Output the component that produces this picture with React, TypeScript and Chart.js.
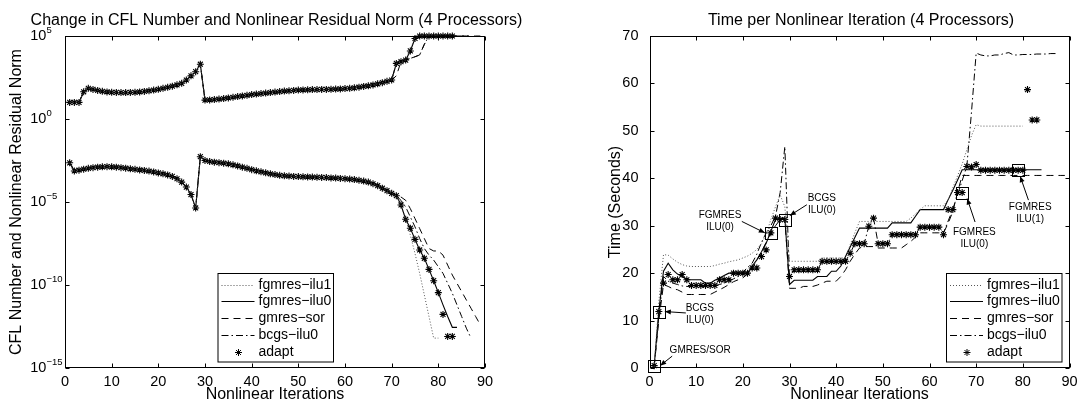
import React, { useEffect, useRef } from 'react';
import { Chart, registerables } from 'chart.js';

Chart.register(...registerables);

const FONT = '"Liberation Sans", Arial, Helvetica, sans-serif';

// ---------- axes ----------
const xTicks = [0, 10, 20, 30, 40, 50, 60, 70, 80, 90];
const logTickExponents = [5, 0, -5, -10, -15];
const timeTicks = [0, 10, 20, 30, 40, 50, 60, 70];

const seriesNames = ['fgmres−ilu1', 'fgmres−ilu0', 'gmres−sor', 'bcgs−ilu0', 'adapt'];

// ---------- left panel: log10 of CFL number ----------
// iterations 1..70 (all solvers coincide)
const cflLog10Shared = [
  1.0, 1.0, 1.0, 1.64, 1.85, 1.78, 1.72, 1.67, 1.63, 1.61,
  1.6, 1.59, 1.59, 1.6, 1.61, 1.63, 1.66, 1.7, 1.74, 1.79,
  1.85, 1.91, 1.98, 2.06, 2.15, 2.35, 2.6, 2.85, 3.3, 1.14,
  1.15, 1.17, 1.2, 1.23, 1.27, 1.31, 1.35, 1.39, 1.43, 1.47,
  1.5, 1.53, 1.56, 1.59, 1.62, 1.65, 1.68, 1.7, 1.72, 1.74,
  1.75, 1.76, 1.77, 1.77, 1.78, 1.78, 1.79, 1.8, 1.81, 1.83,
  1.85, 1.88, 1.92, 1.96, 2.0, 2.05, 2.12, 2.19, 2.27, 2.35,
];
// from iteration 71
const cflLog10TailIlu1 = [3.35, 3.45, 3.55, 4.2, 4.9, 5, 5, 5, 5, 5];
const cflLog10TailIlu0 = [3.35, 3.45, 3.55, 4.1, 4.85, 5, 5, 5, 5, 5, 5, 5, 5, 5];
const cflLog10TailSor = [2.6, 3.45, 3.55, 3.65, 3.75, 3.86, 4.5, 5, 5, 5, 5, 5, 5, 5, 5, 5, 5, 5, 5];
const cflLog10TailBcgs = [3.35, 3.45, 3.55, 3.65, 3.75, 3.86, 4.5, 5, 5, 5, 5, 5, 5, 5, 5, 5, 5];
const cflLog10TailAdapt = [3.35, 3.45, 3.55, 4.1, 4.85, 5, 5, 5, 5, 5, 5, 5, 5];

// ---------- left panel: log10 of nonlinear residual norm ----------
// iterations 1..71 (all solvers coincide)
const residualLog10Shared = [
  -2.64, -3.13, -3.08, -3.02, -2.97, -2.93, -2.9, -2.88, -2.87, -2.88,
  -2.9, -2.93, -2.96, -3.0, -3.03, -3.07, -3.1, -3.14, -3.19, -3.25,
  -3.3, -3.37, -3.46, -3.6, -3.8, -4.1, -4.55, -5.36, -2.27, -2.5,
  -2.56, -2.6, -2.63, -2.66, -2.7, -2.76, -2.83, -2.9, -2.97, -3.05,
  -3.12, -3.18, -3.24, -3.3, -3.35, -3.39, -3.42, -3.44, -3.46, -3.47,
  -3.48, -3.49, -3.5, -3.51, -3.52, -3.53, -3.55, -3.56, -3.58, -3.6,
  -3.62, -3.65, -3.69, -3.74, -3.8, -3.9, -4.02, -4.17, -4.32, -4.48,
  -4.62,
];
// from iteration 72
const residualLog10TailIlu1 = [-5.2, -6.0, -7.0, -8.1, -9.3, -10.6, -11.9, -13.2, -13.2];
const residualLog10TailIlu0 = [-5.18, -6.04, -6.58, -7.25, -7.89, -8.39, -9.06, -9.74, -10.46, -11.2, -11.9, -12.55, -12.55];
const residualLog10TailSor = [-4.7, -4.9, -5.4, -6.0, -6.6, -7.2, -7.8, -7.95, -7.95, -8.2, -8.8, -9.4, -9.9, -10.4, -10.9, -11.4, -11.9, -12.4];
const residualLog10TailBcgs = [-4.9, -5.3, -5.9, -6.5, -7.2, -7.8, -8.2, -8.5, -8.9, -9.3, -9.9, -10.5, -11.2, -11.9, -12.6, -13.2];
const residualLog10TailAdapt = [-5.18, -6.04, -6.58, -7.25, -7.89, -8.39, -9.06, -9.74, -10.46, -11.77, -13.1, -13.1];

// ---------- right panel: seconds per nonlinear iteration (from iteration 1) ----------
const timeIlu1 = [
  0.3, 14.0, 23.9, 23.8, 23.0, 22.3, 21.8, 21.5, 21.4, 21.4,
  21.4, 21.4, 21.4, 21.6, 21.9, 22.1, 22.4, 22.6, 22.8, 23.2,
  23.6, 24.2, 25.0, 26.2, 28.2, 31.3, 34.0, 36.5, 34.0, 22.5,
  22.5, 22.5, 22.5, 22.5, 22.5, 22.5, 23.2, 23.2, 23.2, 23.2,
  23.2, 23.2, 26.0, 28.5, 30.9, 30.9, 30.9, 30.9, 30.9, 30.9,
  30.9, 30.9, 30.9, 30.9, 30.9, 31.6, 32.5, 33.4, 34.2, 34.2,
  34.2, 34.2, 34.2, 35.5, 38.0, 40.5, 43.0, 46.0, 49.0, 51.3,
  51.0, 51.0, 51.0, 51.0, 51.0, 51.0, 51.0, 51.0, 51.0, 51.0,
];
const timeIlu0 = [
  0.4, 12.0, 20.4, 22.1, 20.7, 19.8, 19.3, 18.6, 18.6, 18.6,
  18.6, 17.9, 17.9, 18.5, 19.0, 19.5, 20.0, 20.0, 20.0, 20.0,
  20.0, 21.5, 22.8, 24.5, 26.3, 28.8, 31.3, 31.5, 31.6, 17.6,
  18.5, 18.5, 18.5, 18.5, 18.5, 19.3, 19.3, 19.3, 20.4, 20.4,
  21.5, 23.5, 25.5, 27.5, 29.5, 29.5, 29.5, 29.5, 29.5, 29.5,
  29.5, 30.6, 30.6, 30.6, 30.6, 30.6, 32.0, 33.4, 33.4, 33.4,
  33.4, 33.4, 33.4, 35.5, 37.5, 39.6, 41.8, 41.8, 41.8, 41.8,
  41.8, 41.8, 41.8, 41.8, 41.8, 41.8, 41.8, 41.8, 41.8, 41.8,
  41.8, 41.8, 41.8, 41.8,
];
const timeSor = [
  0.3, 10.0, 17.6, 17.2, 16.7, 16.5, 16.0, 15.5, 15.5, 15.5,
  15.5, 15.5, 15.5, 16.0, 16.5, 17.0, 17.6, 18.2, 18.6, 19.0,
  19.8, 21.0, 22.7, 24.5, 26.5, 28.5, 30.0, 31.3, 31.5, 16.8,
  16.8, 16.8, 17.2, 17.2, 17.2, 17.5, 17.9, 18.3, 18.3, 18.3,
  19.3, 20.7, 22.5, 24.0, 25.3, 25.6, 25.6, 25.6, 25.3, 25.3,
  25.3, 25.3, 25.3, 25.3, 26.0, 26.7, 27.6, 28.5, 28.5, 28.5,
  28.5, 28.5, 28.5, 30.5, 33.0, 37.0, 40.6, 40.6, 40.6, 40.6,
  40.6, 40.6, 40.6, 40.6, 40.6, 40.6, 40.6, 40.6, 40.6, 40.6,
  40.6, 40.6, 40.6, 40.6, 40.6, 40.6, 40.6, 40.6, 40.6,
];
const timeBcgs = [
  0.3, 11.0, 19.3, 18.3, 17.9, 17.6, 17.3, 17.2, 17.2, 17.2,
  17.2, 17.2, 17.2, 17.4, 17.6, 17.9, 18.3, 18.8, 19.3, 20.2,
  21.2, 22.1, 24.0, 26.5, 28.5, 30.0, 32.0, 37.0, 46.7, 19.0,
  20.7, 20.7, 20.7, 20.7, 20.7, 20.7, 22.5, 22.5, 22.5, 22.5,
  22.5, 22.5, 24.2, 26.2, 26.2, 26.2, 29.9, 31.6, 26.2, 26.2,
  26.2, 28.1, 28.1, 28.1, 28.1, 28.1, 28.1, 29.7, 29.7, 29.7,
  29.7, 29.7, 28.5, 31.0, 33.5, 36.5, 39.5, 42.5, 54.0, 66.4,
  66.0, 65.8, 65.8, 66.0, 66.0, 66.3, 66.5, 66.0, 66.0, 66.1,
  66.1, 66.1, 66.2, 66.2, 66.2, 66.3, 66.3,
];
const timeAdapt = [
  0.5, 11.9, 17.9, 19.7, 18.6, 18.6, 19.7, 18.6, 17.4, 17.4,
  17.4, 17.4, 17.4, 17.4, 18.6, 18.6, 18.6, 20.0, 20.0, 20.0,
  20.0, 21.1, 21.1, 23.5, 24.9, 28.5, 31.6, 31.3, 31.3, 19.3,
  20.7, 20.7, 20.7, 20.7, 20.7, 20.7, 22.5, 22.5, 22.5, 22.5,
  22.5, 22.5, 24.2, 26.2, 26.2, 26.2, 29.9, 31.6, 26.2, 26.2,
  26.2, 28.1, 28.1, 28.1, 28.1, 28.1, 28.1, 29.7, 29.7, 29.7,
  29.7, 29.7, 28.1, 33.4, 33.4, 37.0, 37.0, 42.5, 42.4, 42.9,
  41.7, 41.7, 41.7, 41.7, 41.7, 41.7, 41.7, 41.7, 41.7, 41.7,
  58.7, 52.3, 52.3,
];

// ---------- annotations: iterations where adapt switched solver ----------
const switchIterations = [1, 2, 26, 29, 67, 79];
const switchLabels = [
  ['GMRES/SOR'],
  ['BCGS', 'ILU(0)'],
  ['FGMRES', 'ILU(0)'],
  ['BCGS', 'ILU(0)'],
  ['FGMRES', 'ILU(0)'],
  ['FGMRES', 'ILU(1)'],
];
// pixel offsets from the marked point (text centre, arrow tail, arrow head)
const switchLayout = [
  { text: [46, -15], tail: [18, -9.5], head: [6, 0] },
  { text: [41, -3], tail: [27, 1.4], head: [6, 0] },
  { text: [-50.8, -17.1], tail: [-29, -11.4], head: [-6, 0] },
  { text: [37, -21.3], tail: [22, -14.8], head: [5, -4] },
  { text: [12.2, 39.5], tail: [12.9, 29.5], head: [5, 6] },
  { text: [12, 36.6], tail: [10.3, 29.9], head: [2, 6] },
];

// ---------- styles ----------
const STYLES = [
  { dash: [1, 2], color: '#555', width: 1, marker: false },
  { dash: [], color: '#000', width: 1.1, marker: false },
  { dash: [7, 5], color: '#000', width: 1, marker: false },
  { dash: [7, 3, 1.5, 3], color: '#000', width: 1, marker: false },
  { dash: [], color: '#000', width: 1, marker: true },
];

const toPoints = (vals: number[], start: number, isLog: boolean) =>
  vals.map((v, k) => ({ x: start + k, y: isLog ? Math.pow(10, v) : v }));

function makeDataset(label: string, points: any[], idx: number) {
  const st = STYLES[idx];
  if (st.marker) {
    return {
      label, data: points, showLine: false, pointStyle: 'star', pointRadius: 3.5,
      pointBorderWidth: 1.1, pointBorderColor: '#000', pointBackgroundColor: '#000',
      borderColor: '#000', clip: false,
    };
  }
  return {
    label, data: points, borderColor: st.color, borderWidth: st.width, borderDash: st.dash,
    pointRadius: 0, fill: false, tension: 0, clip: false,
  };
}

function drawStar(ctx: CanvasRenderingContext2D, x: number, y: number, r: number) {
  ctx.beginPath();
  [0, Math.PI / 4, Math.PI / 2, (3 * Math.PI) / 4].forEach((a) => {
    ctx.moveTo(x - r * Math.cos(a), y - r * Math.sin(a));
    ctx.lineTo(x + r * Math.cos(a), y + r * Math.sin(a));
  });
  ctx.stroke();
}

function titlePlugin(text: string) {
  return {
    id: 'plotTitle',
    afterDraw(chart: any) {
      const a = chart.chartArea;
      const ctx = chart.ctx;
      ctx.save();
      ctx.fillStyle = '#000';
      ctx.font = `16px ${FONT}`;
      ctx.textAlign = 'center';
      ctx.textBaseline = 'middle';
      ctx.fillText(text, (a.left + a.right) / 2 + 1.5, 20.8);
      ctx.restore();
    },
  };
}

function framePlugin(yTickValues: number[]) {
  return {
    id: 'frame',
    afterDatasetsDraw(chart: any) {
      const { ctx, chartArea: a } = chart;
      const xs = chart.scales.x;
      const ys = chart.scales.y;
      ctx.save();
      ctx.setLineDash([]);
      ctx.strokeStyle = '#000';
      ctx.lineWidth = 1;
      const L = Math.round(a.left) + 0.5;
      const R = Math.round(a.right) - 0.5;
      const T = Math.round(a.top) + 0.5;
      const B = Math.round(a.bottom) - 0.5;
      ctx.strokeRect(L, T, R - L, B - T);
      ctx.beginPath();
      xTicks.forEach((v) => {
        const p = Math.round(xs.getPixelForValue(v)) + 0.5;
        ctx.moveTo(p, B); ctx.lineTo(p, B - 4);
        ctx.moveTo(p, T); ctx.lineTo(p, T + 4);
      });
      yTickValues.forEach((v) => {
        const p = Math.round(ys.getPixelForValue(v)) + 0.5;
        ctx.moveTo(L, p); ctx.lineTo(L + 4, p);
        ctx.moveTo(R, p); ctx.lineTo(R - 4, p);
      });
      ctx.stroke();
      ctx.restore();
    },
  };
}

function legendPlugin(box: { x: number; y: number; w: number; h: number }) {
  return {
    id: 'boxLegend',
    afterDraw(chart: any) {
      const ctx = chart.ctx;
      ctx.save();
      ctx.fillStyle = '#fff';
      ctx.fillRect(box.x, box.y, box.w, box.h);
      ctx.strokeStyle = '#000';
      ctx.lineWidth = 1;
      ctx.setLineDash([]);
      ctx.strokeRect(box.x + 0.5, box.y + 0.5, box.w, box.h);
      ctx.font = `14px ${FONT}`;
      ctx.textBaseline = 'middle';
      ctx.textAlign = 'left';
      seriesNames.forEach((name, k) => {
        const y = Math.round(box.y + 11.7 + k * 16.75) + 0.5;
        const st = STYLES[k];
        ctx.strokeStyle = st.color;
        ctx.lineWidth = st.width;
        if (st.marker) {
          ctx.setLineDash([]);
          drawStar(ctx, box.x + 21, y, 3.5);
        } else {
          ctx.setLineDash(st.dash);
          ctx.beginPath();
          ctx.moveTo(box.x + 4, y);
          ctx.lineTo(box.x + 37, y);
          ctx.stroke();
        }
        ctx.setLineDash([]);
        ctx.fillStyle = '#000';
        ctx.fillText(name, box.x + 41, y);
      });
      ctx.restore();
    },
  };
}

const logLabelPlugin = {
  id: 'logLabels',
  afterDraw(chart: any) {
    const ys = chart.scales.y;
    const a = chart.chartArea;
    const ctx = chart.ctx;
    ctx.save();
    ctx.fillStyle = '#000';
    ctx.textBaseline = 'middle';
    ctx.textAlign = 'left';
    logTickExponents.forEach((e) => {
      const y = ys.getPixelForValue(Math.pow(10, e));
      const x0 = a.left - 34.7;
      ctx.font = `14.5px ${FONT}`;
      ctx.fillText('10', x0, y);
      const w = ctx.measureText('10').width;
      ctx.font = `9.5px ${FONT}`;
      ctx.fillText(e < 0 ? '−' + Math.abs(e) : String(e), x0 + w, y - 5.5);
    });
    ctx.restore();
  },
};

const annotationPlugin = {
  id: 'switchMarks',
  afterDraw(chart: any) {
    const ctx = chart.ctx;
    const xs = chart.scales.x;
    const ys = chart.scales.y;
    ctx.save();
    ctx.strokeStyle = '#000';
    ctx.fillStyle = '#000';
    ctx.lineWidth = 1;
    ctx.setLineDash([]);
    switchIterations.forEach((it, k) => {
      const px = xs.getPixelForValue(it);
      const py = ys.getPixelForValue(timeAdapt[it - 1]);
      const lay = switchLayout[k];
      ctx.strokeRect(Math.round(px - 6) + 0.5, Math.round(py - 6) + 0.5, 12, 12);
      const tx = px + lay.tail[0], ty = py + lay.tail[1];
      const hx = px + lay.head[0], hy = py + lay.head[1];
      ctx.beginPath();
      ctx.moveTo(tx, ty);
      ctx.lineTo(hx, hy);
      ctx.stroke();
      const ang = Math.atan2(hy - ty, hx - tx);
      const len = 6, hw = 2.5;
      ctx.beginPath();
      ctx.moveTo(hx, hy);
      ctx.lineTo(hx - len * Math.cos(ang) + hw * Math.sin(ang), hy - len * Math.sin(ang) - hw * Math.cos(ang));
      ctx.lineTo(hx - len * Math.cos(ang) - hw * Math.sin(ang), hy - len * Math.sin(ang) + hw * Math.cos(ang));
      ctx.closePath();
      ctx.fill();
      ctx.font = `10px ${FONT}`;
      ctx.textAlign = 'center';
      ctx.textBaseline = 'middle';
      switchLabels[k].forEach((line, j) => {
        ctx.fillText(line, px + lay.text[0], py + lay.text[1] + j * 12);
      });
    });
    ctx.restore();
  },
};

const xAxisOptions = () => ({
  type: 'linear',
  min: 0,
  max: 90,
  afterFit: (s: any) => { s.height = 35; },
  afterBuildTicks: (s: any) => { s.ticks = xTicks.map((v) => ({ value: v })); },
  ticks: { font: { size: 14.5, family: FONT }, color: '#000', padding: -3, maxRotation: 0, autoSkip: false },
  grid: { display: false },
  border: { display: false },
  title: {
    display: true, text: 'Nonlinear Iterations', color: '#000',
    font: { size: 16, family: FONT, lineHeight: 1 }, padding: { top: 0, bottom: 0.5 },
  },
});

export default function App() {
  const leftRef = useRef<HTMLCanvasElement>(null);
  const rightRef = useRef<HTMLCanvasElement>(null);

  useEffect(() => {
    Chart.defaults.font.family = FONT;
    Chart.defaults.color = '#000';

    const cflTails = [cflLog10TailIlu1, cflLog10TailIlu0, cflLog10TailSor, cflLog10TailBcgs, cflLog10TailAdapt];
    const resTails = [residualLog10TailIlu1, residualLog10TailIlu0, residualLog10TailSor, residualLog10TailBcgs, residualLog10TailAdapt];
    const leftDatasets: any[] = [];
    seriesNames.forEach((name, k) => {
      leftDatasets.push(makeDataset(name + ' CFL', toPoints([...cflLog10Shared, ...cflTails[k]], 1, true), k));
      leftDatasets.push(makeDataset(name + ' residual', toPoints([...residualLog10Shared, ...resTails[k]], 1, true), k));
    });

    const timeSeries = [timeIlu1, timeIlu0, timeSor, timeBcgs, timeAdapt];
    const rightDatasets = seriesNames.map((name, k) => makeDataset(name, toPoints(timeSeries[k], 1, false), k));

    const left = new Chart(leftRef.current as HTMLCanvasElement, {
      type: 'line',
      data: { datasets: leftDatasets },
      options: {
        responsive: false,
        animation: false,
        events: [],
        layout: { padding: { left: 0, right: 55, top: 36, bottom: 0 } },
        plugins: {
          legend: { display: false },
          tooltip: { enabled: false },
          title: { display: false },
        },
        scales: {
          x: xAxisOptions(),
          y: {
            type: 'logarithmic',
            min: 1e-15,
            max: 1e5,
            afterFit: (s: any) => { s.width = 65; },
            ticks: { display: false },
            grid: { display: false },
            border: { display: false },
            title: {
              display: true, text: 'CFL Number and Nonlinear Residual Norm', color: '#000',
              font: { size: 16, family: FONT }, padding: { top: 6.9, bottom: 0 },
            },
          },
        },
      } as any,
      plugins: [
        framePlugin(logTickExponents.map((e) => Math.pow(10, e))),
        logLabelPlugin,
        legendPlugin({ x: 217.5, y: 273, w: 115.5, h: 88.5 }),
        titlePlugin('Change in CFL Number and Nonlinear Residual Norm (4 Processors)'),
      ],
    } as any);

    const right = new Chart(rightRef.current as HTMLCanvasElement, {
      type: 'line',
      data: { datasets: rightDatasets },
      options: {
        responsive: false,
        animation: false,
        events: [],
        layout: { padding: { left: 0, right: 20.5, top: 36, bottom: 0 } },
        plugins: {
          legend: { display: false },
          tooltip: { enabled: false },
          title: { display: false },
        },
        scales: {
          x: xAxisOptions(),
          y: {
            type: 'linear',
            min: 0,
            max: 70,
            afterFit: (s: any) => { s.width = 109.5; },
            afterBuildTicks: (s: any) => { s.ticks = timeTicks.map((v) => ({ value: v })); },
            ticks: { font: { size: 14.5, family: FONT }, color: '#000', padding: 3 },
            grid: { display: false },
            border: { display: false },
            title: {
              display: true, text: 'Time (Seconds)', color: '#000',
              font: { size: 16, family: FONT }, padding: { top: 66.4, bottom: 0 },
            },
          },
        },
      } as any,
      plugins: [
        framePlugin(timeTicks),
        annotationPlugin,
        legendPlugin({ x: 406, y: 273, w: 115.5, h: 88.5 }),
        titlePlugin('Time per Nonlinear Iteration (4 Processors)'),
      ],
    } as any);

    return () => {
      left.destroy();
      right.destroy();
    };
  }, []);

  return (
    <div style={{ position: 'fixed', left: 0, top: 0, width: 1077, height: 403, overflow: 'hidden', background: '#fff' }}>
      <canvas ref={leftRef} width={540} height={403} style={{ position: 'absolute', left: 0, top: 0, width: 540, height: 403 }} />
      <canvas ref={rightRef} width={550} height={403} style={{ position: 'absolute', left: 540, top: 0, width: 550, height: 403 }} />
    </div>
  );
}
